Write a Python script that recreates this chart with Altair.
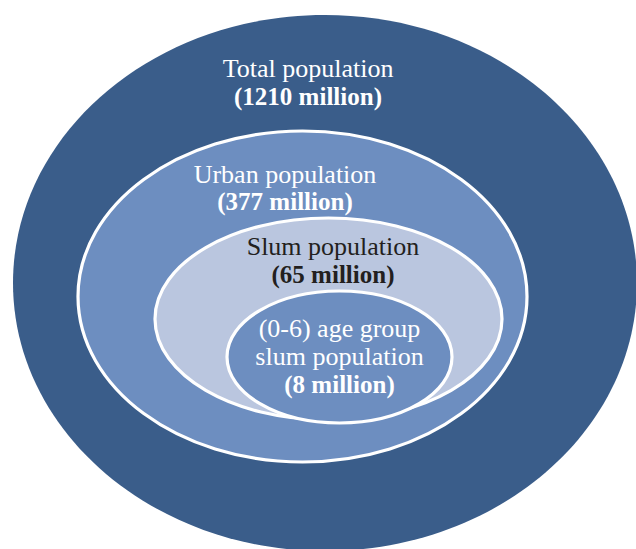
import altair as alt
import pandas as pd

# ---- data ----
groups = ["Total population", "Urban population", "Slum population", "(0-6) age group slum population"]
millions = [1210, 377, 65, 8]

# ---- layout (pixel units of the 636x549 canvas) ----
ell_cx = [325, 302.5, 328.5, 339.5]
ell_cy = [283, 296.5, 319, 357]
ell_rx = [312, 224.5, 173.5, 112.5]
ell_ry = [268, 165.5, 101, 66]
ell_fill = ["#3A5D8A", "#6D8EC0", "#BAC6DF", "#6D8EC0"]
ell_stroke_w = [0, 3.2, 3.2, 3.2]

label_lines = [
    "Total population", "(1210 million)",
    "Urban population", "(377 million)",
    "Slum population", "(65 million)",
    "(0-6) age group", "slum population", "(8 million)",
]
label_x = [308, 308, 285, 285, 333, 333, 339.5, 339.5, 339.5]
label_y = [77, 105, 183, 210, 255, 283, 337, 365, 393]
label_bold = [False, True, False, True, False, True, False, False, True]
label_color = ["#FFFFFF", "#FFFFFF", "#FFFFFF", "#FFFFFF", "#231F20", "#231F20", "#FFFFFF", "#FFFFFF", "#FFFFFF"]

W, H = 636, 549
K = 0.5523


def ellipse_path(r):
    # unit ellipse, x radius 1, y radius r, drawn with cubic beziers
    a = K * r
    return (
        f"M 1 0 C 1 {a} {K} {r} 0 {r} "
        f"C {-K} {r} -1 {a} -1 0 "
        f"C -1 {-a} {-K} {-r} 0 {-r} "
        f"C {K} {-r} 1 {-a} 1 0 Z"
    )


ell = pd.DataFrame({
    "group": groups,
    "millions": millions,
    "cx": ell_cx,
    "cy": ell_cy,
    "shape": [ellipse_path(ry / rx) for rx, ry in zip(ell_rx, ell_ry)],
    "size": [(2 * rx) ** 2 for rx in ell_rx],
    "fill": ell_fill,
    "sw": ell_stroke_w,
    "order": list(range(len(groups))),
})

lab = pd.DataFrame({
    "text": label_lines,
    "x": label_x,
    "y": label_y,
    "weight": ["bold" if b else "normal" for b in label_bold],
    "color": label_color,
})

xs = alt.Scale(domain=[0, W], nice=False, zero=False)
ys = alt.Scale(domain=[0, H], nice=False, zero=False, reverse=True)

ellipses = alt.Chart(ell).mark_point(filled=True, opacity=1, stroke="white").encode(
    x=alt.X("cx:Q", scale=xs, axis=None),
    y=alt.Y("cy:Q", scale=ys, axis=None),
    shape=alt.Shape("shape:N", scale=None, legend=None),
    size=alt.Size("size:Q", scale=None, legend=None),
    fill=alt.Fill("fill:N", scale=None, legend=None),
    strokeWidth=alt.StrokeWidth("sw:Q", scale=None, legend=None),
    order=alt.Order("order:Q"),
)

def text_layer(weight, size):
    return alt.Chart(lab).transform_filter(
        alt.datum.weight == weight
    ).mark_text(
        font="Liberation Serif", fontSize=size, fontWeight=weight,
        align="center", baseline="alphabetic",
    ).encode(
        x=alt.X("x:Q", scale=xs, axis=None),
        y=alt.Y("y:Q", scale=ys, axis=None),
        text="text:N",
        color=alt.Color("color:N", scale=None, legend=None),
    )

chart = alt.layer(ellipses, text_layer("normal", 26), text_layer("bold", 25)).properties(
    width=W, height=H, padding=0, autosize=alt.AutoSizeParams(type="none"),
    background="white",
).configure_view(stroke=None)

chart.save("out.html", embed_options={"renderer": "svg", "actions": False})
